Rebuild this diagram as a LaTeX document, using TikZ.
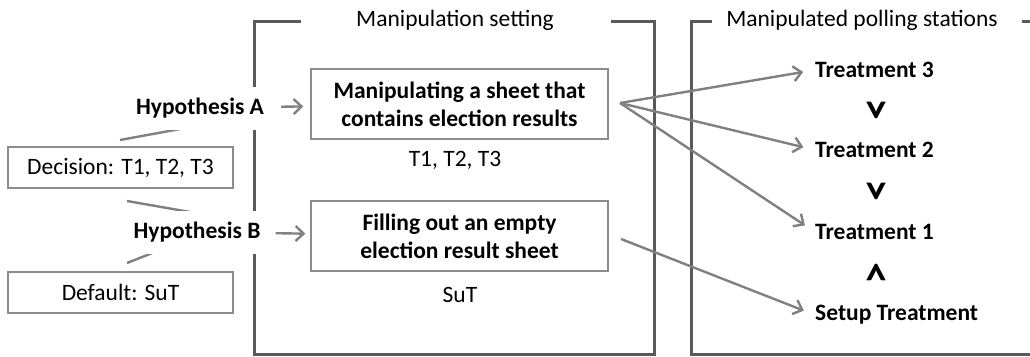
\documentclass[tikz,border=0pt]{standalone}
\usepackage{fontspec}
\setmainfont{Carlito}
\usetikzlibrary{arrows.meta}
\definecolor{framegray}{RGB}{89,89,89}
\definecolor{conngray}{RGB}{128,128,128}
\definecolor{boxgray}{RGB}{140,140,140}
\begin{document}
\begin{tikzpicture}[x=1pt,y=-1pt,
  every node/.style={font=\fontsize{23.5}{28}\selectfont, inner sep=0pt},
  frameline/.style={line width=3pt, draw=framegray},
  connline/.style={line width=2.4pt, draw=conngray},
  conn/.style={connline, -{Straight Barb[length=8pt,width=15pt]}},
  bigbox/.style={draw=boxgray, line width=1.3pt, minimum width=297pt, minimum height=70pt, align=center, font=\fontsize{23.5}{28}\selectfont\bfseries},
  smallbox/.style={draw=boxgray, line width=1.3pt, minimum width=225pt, minimum height=41pt},
  hyp/.style={fill=white, minimum height=43pt, inner xsep=3pt, font=\fontsize{23.5}{28}\selectfont\bfseries},
  treat/.style={anchor=west, font=\fontsize{23.5}{28}\selectfont\bfseries},
  chev/.style={rotate=-90, font=\fontsize{44}{50}\selectfont\bfseries}
]
\useasboundingbox (0,0) rectangle (1030,356);

% frames
\draw[frameline] (301,21) -- (254,21) -- (254,354) -- (654,354) -- (654,21) -- (611,21);
\draw[frameline] (712,21) -- (691,21) -- (691,354) -- (1030,354);
\draw[frameline] (1022,21) -- (1030,21);
\node (t-set) at (455,20) {Manipulation setting};
\node (t-pol) at (862,20) {Manipulated polling stations};

% left boxes
\node[smallbox] (dec) at (120.5,167.5) {Decision: T1, T2, T3};
\node[smallbox] (def) at (120.5,292.5) {Default: SuT};

% slanted lines
\coordinate (s1a) at (120,140);
\coordinate (s1b) at (180,129);
\coordinate (s2a) at (127,201);
\coordinate (s2b) at (190,212);
\coordinate (s3a) at (127,263);
\coordinate (s3b) at (160,250);
\draw[connline] (s1a) -- (s1b);
\draw[connline] (s2a) -- (s2b);
\draw[connline] (s3a) -- (s3b);

% hypotheses
\node[hyp] (hA) at (200,108) {Hypothesis A};
\node[hyp] (hB) at (197,232) {Hypothesis B};

% manipulation boxes
\node[bigbox] (box1) at (459.5,104) {Manipulating a sheet that\\contains election results};
\node[bigbox] (box2) at (459.5,236) {Filling out an empty\\election result sheet};
\node (l1) at (455,160) {T1, T2, T3};
\node (l2) at (460,295) {SuT};

\draw[conn, shorten <=14pt, shorten >=7pt] (hA) -- (box1);
\draw[conn, shorten <=12pt, shorten >=5pt] (hB) -- (box2);

% treatments
\node[treat] (tr3) at (815,70) {Treatment 3};
\node[treat] (tr2) at (815,150) {Treatment 2};
\node[treat] (tr1) at (815,232) {Treatment 1};
\node[treat] (su) at (815,315) {Setup Treatment};
\node[chev] (c1) at (874,109) {>};
\node[chev] (c2) at (874,190) {>};
\node[chev] (c3) at (874,273) {<};

% outgoing connectors
\coordinate (o1) at (620,103);
\coordinate (o2) at (621,239);
\draw[conn, shorten >=12pt] (o1) -- (tr3.west);
\draw[conn, shorten >=12pt] (o1) -- (tr2.west);
\draw[conn, shorten >=12pt] (o1) -- (tr1.west);
\draw[conn, shorten >=12pt] (o2) -- (su.west);
\end{tikzpicture}
\end{document}
